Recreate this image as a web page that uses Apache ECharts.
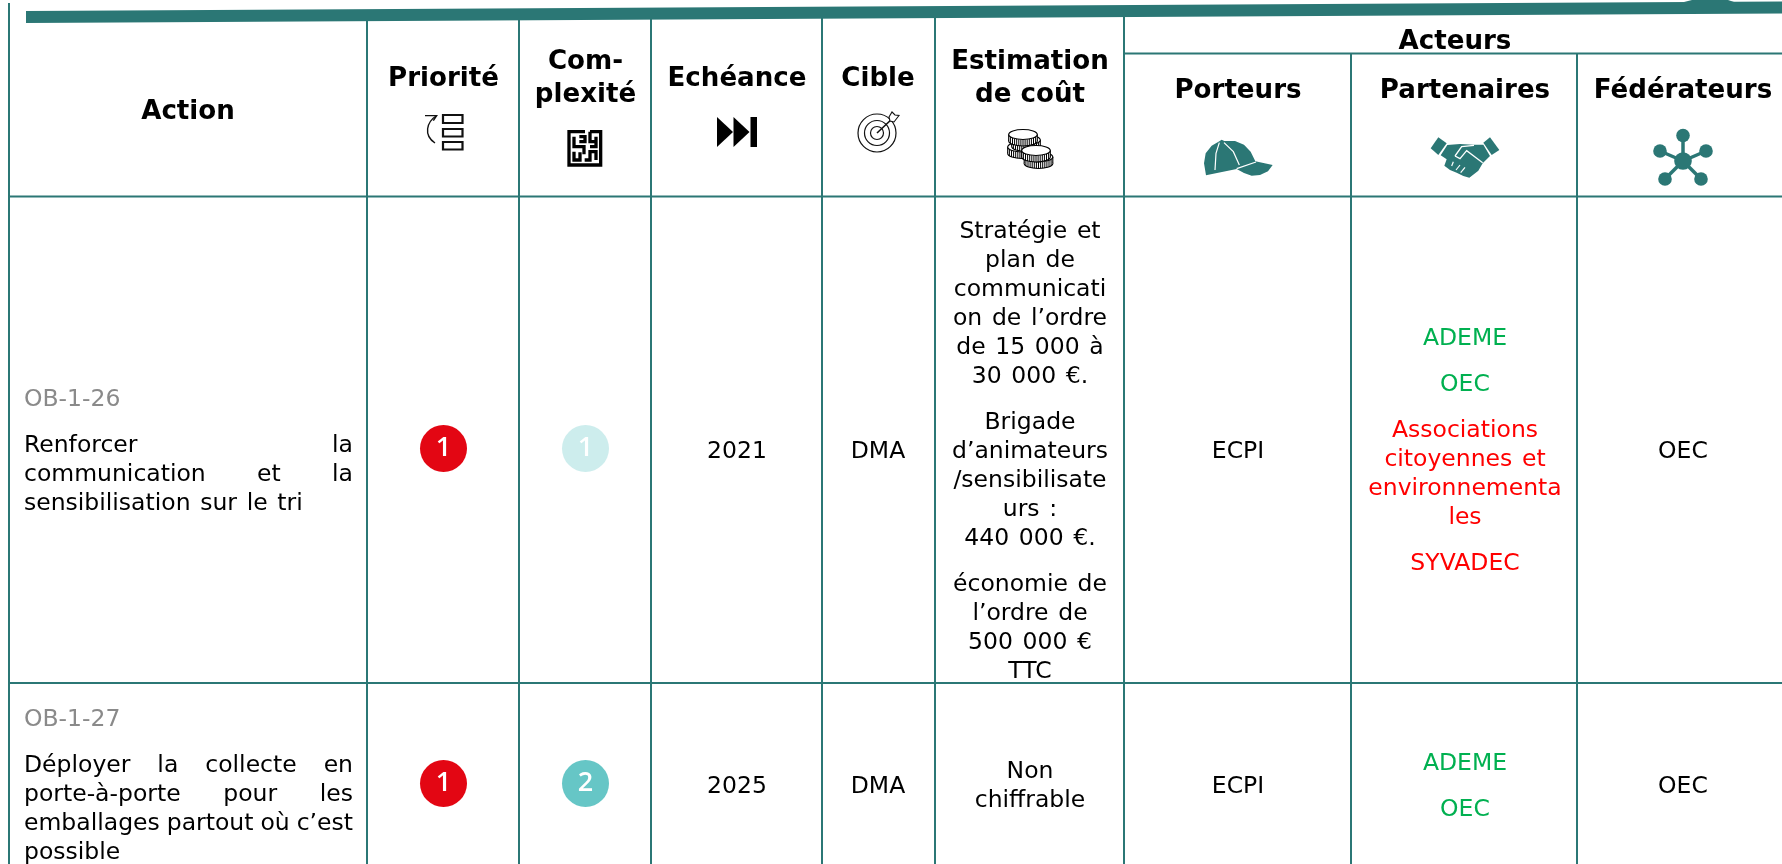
<!DOCTYPE html>
<html lang="fr">
<head>
<meta charset="utf-8">
<style>html,body{margin:0;padding:0;background:#fff;overflow:hidden}#c{width:1782px;height:864px}</style>
<script src="https://cdn.jsdelivr.net/npm/echarts@6/dist/echarts.min.js"></script>
</head>
<body>
<div id="c"></div>
<script>
// ---------- content ----------
const HEAD_ACTION = ['Action'];
const HEAD_PRIORITY = ['Priorité'];
const HEAD_COMPLEXITY = ['Com-', 'plexité'];
const HEAD_DEADLINE = ['Echéance'];
const HEAD_TARGET = ['Cible'];
const HEAD_COST = ['Estimation', 'de coût'];
const HEAD_GROUP = ['Acteurs'];
const HEAD_CARRIERS = ['Porteurs'];
const HEAD_PARTNERS = ['Partenaires'];
const HEAD_FEDERATORS = ['Fédérateurs'];

const ACTION_IDS = ['OB-1-26', 'OB-1-27'];
const ACTION_LINES = [
  ['Renforcer la', 'communication et la', 'sensibilisation sur le tri'],
  ['Déployer la collecte en', 'porte-à-porte pour les', 'emballages partout où c’est', 'possible']
];
const PRIORITIES = [1, 1];
const COMPLEXITIES = [1, 2];
const DEADLINES = ['2021', '2025'];
const TARGETS = ['DMA', 'DMA'];
const COSTS = [
  [['Stratégie et', 'plan de', 'communicati', 'on de l’ordre', 'de 15 000 à', '30 000 €.'],
   ['Brigade', 'd’animateurs', '/sensibilisate', 'urs :', '440 000 €.'],
   ['économie de', 'l’ordre de', '500 000 €', 'TTC']],
  [['Non', 'chiffrable']]
];
const CARRIERS = ['ECPI', 'ECPI'];
const PARTNERS_CONFIRMED = [['ADEME', 'OEC'], ['ADEME', 'OEC']];
const PARTNERS_PROPOSED = [[['Associations', 'citoyennes et', 'environnementa', 'les'], ['SYVADEC']], []];
const FEDERATORS = ['OEC', 'OEC'];

// ---------- layout and style ----------
const W = 1782, H = 864;
const TEAL = '#2b7775', GREEN = '#00b050', RED = '#ff0000', GREY = '#8a8a8a', BLACK = '#000';
const COL_EDGES = [9, 367, 519, 651, 822, 935, 1124, 1351, 1577];
const COL_CENTERS = [188, 443.5, 585.5, 737, 878, 1030, 1238, 1465, 1683];
const GROUP_CENTER = 1455;
const HEAD_BOTTOM = 196.5, ACTEURS_LINE = 53.5, ROW_LINE = 683;
const ROW_MID = [449.5, 784.5];
const BODY_FONT = '23.5px "DejaVu Sans"', BOLD_FONT = 'bold 26.1px "DejaVu Sans"';
const LINE_H = 29, PARA_GAP = 17, TEXT_DY = 2.2, EXTRA_SPACE = 2.2;
const TEXT_LEFT = 24, TEXT_RIGHT = 353;
const BADGE_COLORS = { p: ['#e30613', '#e30613'], c: ['#cdeded', '#66c6c6'] };

// ---------- text placement ----------
const measure = document.createElement('canvas').getContext('2d');
const textItems = [];
function put(x, y, text, fill, font, align) {
  textItems.push({ value: [x, y + TEXT_DY], text, fill: fill || BLACK, font: font || BODY_FONT, align: align || 'center' });
}
function wordsWidth(words, sp) {
  return words.reduce((s, w) => s + measure.measureText(w).width, 0) + sp * (words.length - 1);
}
function putWords(line, xStart, y, fill, sp) {
  let x = xStart;
  line.split(' ').forEach(w => {
    put(x, y, w, fill, BODY_FONT, 'left');
    x += measure.measureText(w).width + sp;
  });
}
function body(line, cx, y, fill) {
  measure.font = BODY_FONT;
  const words = line.split(' ');
  if (words.length < 2) { put(cx, y, line, fill); return; }
  const sp = measure.measureText(' ').width + EXTRA_SPACE;
  putWords(line, cx - wordsWidth(words, sp) / 2, y, fill, sp);
}
function stack(paragraphs, midY, drawLine) {
  let total = 0;
  paragraphs.forEach((p, i) => { total += p.lines.length * LINE_H + (i ? PARA_GAP : 0); });
  let y = midY - total / 2 + LINE_H / 2;
  paragraphs.forEach(p => {
    p.lines.forEach((line, i) => {
      drawLine(line, y, p, i);
      y += LINE_H;
    });
    y += PARA_GAP;
  });
}
function justified(line, y, isLast) {
  measure.font = BODY_FONT;
  const words = line.split(' ');
  const natural = measure.measureText(' ').width + EXTRA_SPACE;
  if (isLast || words.length < 2) { putWords(line, TEXT_LEFT, y, BLACK, natural); return; }
  const gap = (TEXT_RIGHT - TEXT_LEFT - wordsWidth(words, 0)) / (words.length - 1);
  putWords(line, TEXT_LEFT, y, BLACK, gap);
}
function centered(paragraphs, cx, midY) {
  stack(paragraphs, midY, (line, y, p) => body(line, cx, y, p.color || BLACK));
}

// headers
[[HEAD_ACTION, 0, 109.8], [HEAD_PRIORITY, 1, 76.8], [HEAD_COMPLEXITY, 2, 76.8], [HEAD_DEADLINE, 3, 76.8], [HEAD_TARGET, 4, 76.8],
 [HEAD_COST, 5, 76.8], [HEAD_CARRIERS, 6, 89.3], [HEAD_PARTNERS, 7, 89.3], [HEAD_FEDERATORS, 8, 89.3]].forEach(([lines, c, y]) => {
  lines.forEach((t, i) => put(COL_CENTERS[c], y + (i - (lines.length - 1) / 2) * 33, t, BLACK, BOLD_FONT));
});
put(GROUP_CENTER, 39.8, HEAD_GROUP[0], BLACK, BOLD_FONT);

// rows
ACTION_IDS.forEach((id, r) => {
  const mid = ROW_MID[r];
  stack([{ lines: [id], id: true }, { lines: ACTION_LINES[r] }], mid, (line, y, p, i) => {
    if (p.id) put(TEXT_LEFT, y, line, GREY, BODY_FONT, 'left');
    else justified(line, y, i === p.lines.length - 1);
  });
  put(COL_CENTERS[3], mid, DEADLINES[r]);
  put(COL_CENTERS[4], mid, TARGETS[r]);
  centered(COSTS[r].map(lines => ({ lines })), COL_CENTERS[5], mid);
  put(COL_CENTERS[6], mid, CARRIERS[r]);
  centered(
    PARTNERS_CONFIRMED[r].map(t => ({ lines: [t], color: GREEN }))
      .concat(PARTNERS_PROPOSED[r].map(lines => ({ lines, color: RED }))),
    COL_CENTERS[7], mid);
  put(COL_CENTERS[8], mid, FEDERATORS[r]);
});

// ---------- rules ----------
const ruleItems = [];
ruleItems.push([COL_EDGES[0], 3, COL_EDGES[0], H]);
COL_EDGES.slice(1, 7).forEach(x => ruleItems.push([x, 14, x, H]));
[COL_EDGES[7], COL_EDGES[8]].forEach(x => ruleItems.push([x, ACTEURS_LINE, x, H]));
ruleItems.push([COL_EDGES[6], ACTEURS_LINE, W, ACTEURS_LINE]);
ruleItems.push([COL_EDGES[0], HEAD_BOTTOM, W, HEAD_BOTTOM]);
ruleItems.push([COL_EDGES[0], ROW_LINE, W, ROW_LINE]);

// ---------- icons ----------
function poly(pts, fill, ox, oy) {
  return { type: 'polygon', shape: { points: pts.map(p => [ox + p[0] / 3, oy + p[1] / 3]) }, style: { fill } };
}
function pline(pts, stroke, lw, ox, oy, cap) {
  return { type: 'polyline', shape: { points: pts.map(p => [ox + p[0] / 3, oy + p[1] / 3]) },
    style: { stroke, lineWidth: lw, fill: 'none', lineCap: cap || 'butt', lineJoin: 'miter' } };
}
function rectE(x, y, w, h, st) {
  return { type: 'rect', shape: { x, y, width: w, height: h }, style: st };
}
function coin(cx, cy) {
  const rx = 14.3, ry = 5, h = 6.5, els = [];
  els.push({ type: 'ellipse', shape: { cx, cy: cy + h, rx, ry }, style: { fill: '#fff', stroke: BLACK, lineWidth: 1.1 } });
  els.push(rectE(cx - rx, cy, 2 * rx, h, { fill: '#fff' }));
  for (let i = -6; i <= 6; i++) {
    const tx = cx + i * 2.1, dy = ry * Math.sqrt(Math.max(0, 1 - (i * 2.1 / rx) * (i * 2.1 / rx)));
    els.push({ type: 'line', shape: { x1: tx, y1: cy + dy, x2: tx, y2: cy + h + dy }, style: { stroke: BLACK, lineWidth: 1 } });
  }
  els.push({ type: 'line', shape: { x1: cx - rx, y1: cy, x2: cx - rx, y2: cy + h }, style: { stroke: BLACK, lineWidth: 1.1 } });
  els.push({ type: 'line', shape: { x1: cx + rx, y1: cy, x2: cx + rx, y2: cy + h }, style: { stroke: BLACK, lineWidth: 1.1 } });
  els.push({ type: 'ellipse', shape: { cx, cy, rx, ry }, style: { fill: '#fff', stroke: BLACK, lineWidth: 1.2 } });
  return els;
}
const iconElements = [];
(function () {
  const add = (...e) => iconElements.push(...e);
  const boxStyle = { fill: '#fff', stroke: '#111', lineWidth: 2.2 };
  // top band and the crop of the shape above it
  add({ type: 'polygon', shape: { points: [[26, 11], [W, 1.5], [W, 13.5], [26, 23]] }, style: { fill: TEAL } });
  add({ type: 'polygon', shape: { points: [[1684, 2], [1692, 0], [1728, 0], [1734, 2]] }, style: { fill: TEAL } });
  // priority
  add(rectE(443, 115, 19.5, 8, boxStyle), rectE(443, 129, 19.5, 7.5, boxStyle), rectE(443, 142, 19.5, 7.5, boxStyle));
  add({ type: 'bezierCurve', shape: { x1: 435, y1: 143, cpx1: 423, cpy1: 135, cpx2: 427, cpy2: 122, x2: 436, y2: 116 }, style: { stroke: '#111', lineWidth: 1.4, fill: 'none' } });
  add(pline([[45, 47], [80, 47], [70, 62]], '#111', 1.4, 410, 100));
  // complexity
  const mz = [
    [[75, 20], [27, 20], [27, 120], [122, 120], [122, 20], [90, 20]],
    [[42, 35], [42, 65], [72, 65], [72, 88]],
    [[58, 35], [75, 35], [75, 50], [58, 50]],
    [[42, 80], [42, 105], [60, 105], [60, 82]],
    [[90, 20], [90, 50], [108, 50]],
    [[90, 65], [108, 65], [108, 35]],
    [[74, 105], [90, 105], [90, 80], [108, 80], [108, 105]]
  ];
  mz.forEach(m => add(pline(m, BLACK, 3.3, 560, 125)));
  // deadline
  add({ type: 'polygon', shape: { points: [[717, 117], [733, 132], [717, 147]] }, style: { fill: BLACK } });
  add({ type: 'polygon', shape: { points: [[733.5, 117], [749.5, 132], [733.5, 147]] }, style: { fill: BLACK } });
  add(rectE(750.5, 117, 6.5, 30, { fill: BLACK }));
  // target
  [19, 12.5, 6.5].forEach(r => add({ type: 'circle', shape: { cx: 877, cy: 133, r }, style: { fill: 'none', stroke: '#111', lineWidth: 1.2 } }));
  add({ type: 'line', shape: { x1: 877, y1: 133, x2: 893, y2: 118 }, style: { stroke: '#111', lineWidth: 1.6 } });
  add({ type: 'polygon', shape: { points: [[889, 117], [892, 112], [895, 115], [899, 115.5], [894, 122], [890, 121]] }, style: { fill: '#fff', stroke: '#111', lineWidth: 1.1 } });
  // cost
  [[1022, 147], [1026, 140], [1023, 134.5], [1038.5, 157], [1036, 150.5]].forEach(c => add(...coin(c[0], c[1])));
  // carriers: cap
  add(poly([[78, 166], [72, 130], [77, 100], [95, 77], [118, 64], [125, 59], [133, 63], [165, 63], [192, 74], [212, 95], [226, 124], [278, 135], [264, 154], [240, 165], [215, 167], [192, 159], [170, 147]], TEAL, 1180, 120));
  add(pline([[118, 68], [108, 100], [105, 150]], '#fff', 1.2, 1180, 120));
  add(pline([[132, 68], [160, 95], [178, 135]], '#fff', 1.2, 1180, 120));
  add(pline([[170, 146], [228, 126]], '#fff', 1.2, 1180, 120));
  // partners: handshake
  add(poly([[85, 52], [110, 70], [85, 105], [62, 85]], TEAL, 1410, 120));
  add(poly([[240, 52], [268, 90], [245, 105], [220, 68]], TEAL, 1410, 120));
  add(poly([[112, 75], [150, 72], [190, 74], [220, 74], [240, 108], [218, 130], [205, 152], [178, 173], [160, 168], [140, 158], [120, 150], [103, 137], [110, 118], [92, 106]], TEAL, 1410, 120));
  add(pline([[135, 108], [155, 80], [192, 76]], '#fff', 1.3, 1410, 120));
  add(pline([[135, 108], [150, 116], [170, 92], [218, 128]], '#fff', 1.3, 1410, 120));
  add(pline([[130, 125], [125, 138]], '#fff', 1.2, 1410, 120));
  add(pline([[150, 135], [138, 150]], '#fff', 1.2, 1410, 120));
  add(pline([[165, 142], [152, 158]], '#fff', 1.2, 1410, 120));
  // federators: network
  const hub = [1683, 161];
  [[1683, 135.5], [1660, 151], [1706, 151], [1665, 179], [1701, 179]].forEach(n => {
    add({ type: 'line', shape: { x1: hub[0], y1: hub[1], x2: n[0], y2: n[1] }, style: { stroke: TEAL, lineWidth: 3.5 } });
    add({ type: 'circle', shape: { cx: n[0], cy: n[1], r: 6.8 }, style: { fill: TEAL } });
  });
  add({ type: 'circle', shape: { cx: hub[0], cy: hub[1], r: 8.8 }, style: { fill: TEAL } });
})();

// ---------- badges ----------
const badgeData = [];
PRIORITIES.forEach((v, r) => badgeData.push({ value: [COL_CENTERS[1], ROW_MID[r] - 1, v], itemStyle: { color: BADGE_COLORS.p[v - 1], opacity: 1 } }));
COMPLEXITIES.forEach((v, r) => badgeData.push({ value: [COL_CENTERS[2], ROW_MID[r] - 1, v], itemStyle: { color: BADGE_COLORS.c[v - 1], opacity: 1 } }));

// ---------- chart ----------
const chart = echarts.init(document.getElementById('c'));
const mapXY = (api, x, y) => api.coord([x, y]);
chart.setOption({
  animation: false,
  backgroundColor: '#fff',
  tooltip: { show: false },
  grid: { left: 0, right: 0, top: 0, bottom: 0 },
  xAxis: { type: 'value', min: 0, max: W, show: false },
  yAxis: { type: 'value', min: 0, max: H, inverse: true, show: false },
  series: [
    {
      type: 'custom', name: 'rules', silent: true, clip: false, coordinateSystem: 'cartesian2d',
      data: ruleItems,
      encode: { x: [0, 2], y: [1, 3] },
      renderItem: (p, api) => {
        const a = mapXY(api, api.value(0), api.value(1)), b = mapXY(api, api.value(2), api.value(3));
        return { type: 'line', shape: { x1: a[0], y1: a[1], x2: b[0], y2: b[1] }, style: { stroke: TEAL, lineWidth: 2 } };
      }
    },
    {
      type: 'custom', name: 'icons', silent: true, clip: false, coordinateSystem: 'cartesian2d', z: 3,
      data: [[0, 0]],
      renderItem: () => ({ type: 'group', children: iconElements })
    },
    {
      type: 'scatter', name: 'badges', silent: true, symbol: 'circle', symbolSize: 47, z: 4,
      data: badgeData,
      label: { show: true, position: 'inside', formatter: d => String(d.value[2]), color: '#fff', fontFamily: 'Open Sans', fontWeight: 600, fontSize: 27 }
    },
    {
      type: 'custom', name: 'texts', silent: true, clip: false, coordinateSystem: 'cartesian2d', z: 5,
      data: textItems,
      renderItem: (p, api) => {
        const t = textItems[p.dataIndex], c = mapXY(api, t.value[0], t.value[1]);
        return { type: 'text', style: { x: c[0], y: c[1], text: t.text, fill: t.fill, font: t.font, align: t.align, verticalAlign: 'middle' } };
      }
    }
  ]
});
</script>
</body>
</html>
